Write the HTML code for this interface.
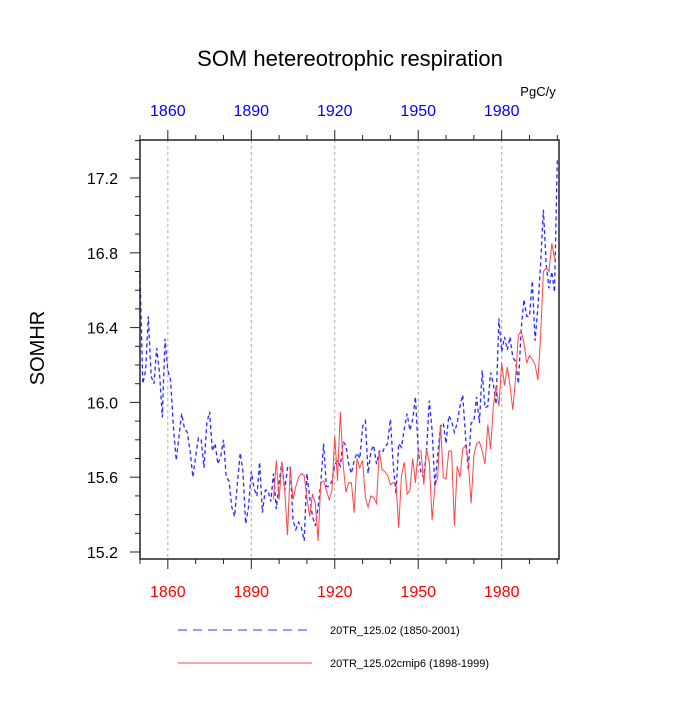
<!DOCTYPE html>
<html><head><meta charset="utf-8"><style>
body{margin:0;background:#fff;}
svg{font-family:"Liberation Sans",sans-serif;}
</style></head><body>
<svg id="chart" width="700" height="700">
<text x="350" y="66" text-anchor="middle" font-size="22">SOM hetereotrophic respiration</text>
<text x="538" y="96" text-anchor="middle" font-size="13">PgC/y</text>
<text transform="translate(44,348) rotate(-90)" text-anchor="middle" font-size="20">SOMHR</text>
<g id="grid"></g><g id="series"></g><g id="axes"></g>
<g>
<line x1="178" y1="630" x2="312" y2="630" stroke="#3333ff" stroke-width="1" stroke-dasharray="9,6"/>
<text x="330" y="634" font-size="11">20TR_125.02 (1850-2001)</text>
<line x1="178" y1="663" x2="312" y2="663" stroke="#ff4444" stroke-width="1"/>
<text x="330" y="667" font-size="11">20TR_125.02cmip6 (1898-1999)</text>
</g>
</svg>
<script>
const blueStart = 1850;
const blueValues = [16.69,16.10,16.17,16.46,16.14,16.10,16.29,16.16,15.92,16.34,
16.17,16.12,15.87,15.69,15.82,15.94,15.86,15.84,15.74,15.60,
15.71,15.81,15.80,15.65,15.89,15.95,15.74,15.78,15.67,15.71,
15.80,15.60,15.58,15.44,15.39,15.57,15.73,15.63,15.35,15.44,
15.63,15.54,15.50,15.68,15.41,15.53,15.53,15.47,15.62,15.43,
15.57,15.68,15.53,15.65,15.66,15.37,15.32,15.36,15.33,15.26,
15.62,15.49,15.39,15.34,15.44,15.57,15.78,15.55,15.55,15.58,
15.67,15.69,15.66,15.79,15.77,15.67,15.62,15.69,15.73,15.70,
15.87,15.90,15.62,15.74,15.77,15.67,15.74,15.73,15.76,15.78,
15.91,15.67,15.51,15.78,15.76,15.86,15.94,15.85,15.91,16.03,
15.75,15.62,15.60,15.75,16.01,15.85,15.55,15.72,15.87,15.89,
15.78,15.93,15.90,15.84,15.89,15.98,16.04,15.82,15.64,15.89,
15.90,16.03,15.89,16.17,15.97,15.98,16.16,16.10,15.99,16.45,
16.27,16.35,16.28,16.35,16.24,16.22,16.10,16.39,16.55,16.46,
16.46,16.65,16.33,16.51,16.74,17.03,16.74,16.61,16.70,16.59,
17.30];
const redStart = 1898;
const redValues = [15.48,15.69,15.48,15.68,15.53,15.29,15.65,15.48,15.55,15.60,
15.62,15.61,15.49,15.39,15.51,15.46,15.26,15.57,15.58,15.53,
15.48,15.53,15.82,15.58,15.95,15.67,15.52,15.57,15.57,15.41,
15.70,15.65,15.69,15.49,15.44,15.50,15.49,15.46,15.74,15.64,
15.63,15.61,15.56,15.57,15.57,15.33,15.61,15.68,15.51,15.53,
15.70,15.57,15.74,15.74,15.56,15.75,15.68,15.37,15.55,15.60,
15.88,15.60,15.59,15.74,15.74,15.34,15.66,15.60,15.75,15.77,
15.68,15.46,15.72,15.78,15.79,15.74,15.67,15.88,15.75,15.98,
16.09,15.98,16.21,16.09,16.19,16.09,15.96,16.13,16.36,16.38,
16.32,16.21,16.25,16.23,16.20,16.12,16.35,16.70,16.72,16.70,
16.85,16.77];
const xTickLabels = [1860,1890,1920,1950,1980];
const yTickLabels = [15.2,15.6,16.0,16.4,16.8,17.2];

const L=140,R=559,T=140,B=559;
const x0=1850, x1=2000.6;
const sx=v=>L+(v-x0)/(x1-x0)*(R-L);
const sy=v=>552-(v-15.2)*187;
const NS="http://www.w3.org/2000/svg";
function mk(tag,attrs,parent){const e=document.createElementNS(NS,tag);for(const k in attrs)e.setAttribute(k,attrs[k]);document.getElementById(parent).appendChild(e);return e;}

xTickLabels.forEach(y=>{
  const g=mk('line',{x1:sx(y),x2:sx(y),y1:T,y2:B,stroke:'#aaa','stroke-width':1,'stroke-dasharray':'3,3'},'grid');
  
  
});
function path(vals,start){return vals.map((v,i)=>(i?'L':'M')+sx(start+i).toFixed(1)+','+sy(v).toFixed(1)).join('');}
const pb=mk('path',{d:path(blueValues,blueStart),fill:'none',stroke:'#2a2aff','stroke-width':1.3,'stroke-dasharray':'4,3'},'series');


const pr=mk('path',{d:path(redValues,redStart),fill:'none',stroke:'#ff4444','stroke-width':1},'series');



const fr=mk('rect',{x:L,y:T,width:R-L,height:B-T,fill:'none',stroke:'#222','stroke-width':1.5},'axes');


for(let y=1850;y<=2000;y+=10){
  const major=xTickLabels.includes(y);const len=major?10:5;
  const a=mk('line',{x1:sx(y),x2:sx(y),y1:B,y2:B+len,stroke:'#222','stroke-width':1},'axes');
  
  
  const b=mk('line',{x1:sx(y),x2:sx(y),y1:T,y2:T-len,stroke:'#222','stroke-width':1},'axes');
  
  
}
xTickLabels.forEach(y=>{
  const t1=mk('text',{x:sx(y),y:597,'text-anchor':'middle','font-size':16,fill:'#ff0000'},'axes');t1.textContent=y;
  
  
  const t2=mk('text',{x:sx(y),y:116,'text-anchor':'middle','font-size':16,fill:'#0000ff'},'axes');t2.textContent=y;
  
  
});
for(let i=0;i<=22;i++){
  const v=15.2+i*0.1;const yy=sy(v);if(yy<T)break;
  const major=i%4===0;const len=major?10:5;
  const a=mk('line',{x1:L,x2:L-len,y1:yy,y2:yy,stroke:'#222','stroke-width':1},'axes');
  
  
}
yTickLabels.forEach(v=>{
  const t=mk('text',{x:118,y:sy(v)+6,'text-anchor':'end','font-size':16},'axes');t.textContent=v.toFixed(1);
  
  
});
</script>
</body></html>
